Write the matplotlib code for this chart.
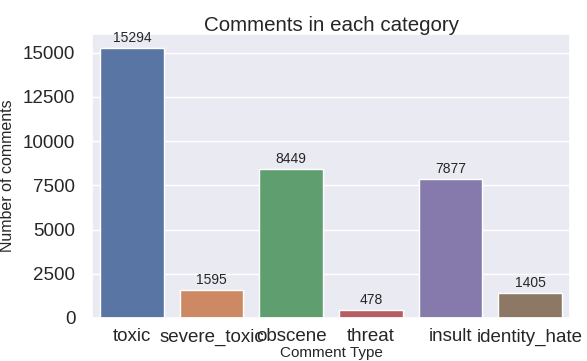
import matplotlib
matplotlib.use("Agg")
import matplotlib.pyplot as plt
import seaborn as sns

categories = ["toxic", "severe_toxic", "obscene", "threat", "insult", "identity_hate"]
counts = [15294, 1595, 8449, 478, 7877, 1405]

sns.set_theme(style="darkgrid")
plt.rcParams['font.family'] = ['Liberation Sans', 'DejaVu Sans']

W, H = 587, 361
fig = plt.figure(figsize=(W / 100, H / 100), dpi=100)
left, right, top, bottom = 92, 570, 34, 318
ax = fig.add_axes([left / W, 1 - bottom / H, (right - left) / W, (bottom - top) / H])
palette = sns.color_palette("deep", 6)
sns.barplot(x=categories, y=counts, hue=categories, palette=palette, legend=False, ax=ax, saturation=0.75)

for i, v in enumerate(counts):
    ax.text(i, v + 150, str(v), ha="center", va="bottom", fontsize=10, color="#262626")

ax.set_title("Comments in each category", fontsize=14.75, color="#262626", pad=2.5)
ax.set_ylabel("Number of comments", fontsize=11.5, color="#262626")
ax.yaxis.set_label_coords((15.5 - left) / (right - left), 0.5)
ax.set_xlabel("Comment Type", fontsize=11, color="#262626", labelpad=0)
ax.tick_params(axis="x", labelsize=13.5, colors="#262626", pad=1.5)
ax.tick_params(axis="y", labelsize=13.5, colors="#262626", pad=6)
ax.set_yticks([0, 2500, 5000, 7500, 10000, 12500, 15000])

fig.savefig("out.png", dpi=100)
